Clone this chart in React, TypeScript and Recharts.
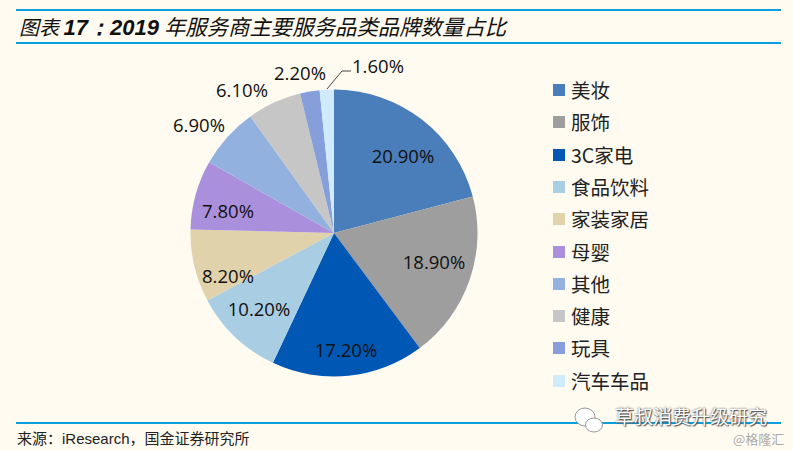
import React from "react";
import { PieChart, Pie, Cell, Legend } from "recharts";

const categories = ["美妆", "服饰", "3C家电", "食品饮料", "家装家居", "母婴", "其他", "健康", "玩具", "汽车车品"];
const shares = [20.9, 18.9, 17.2, 10.2, 8.2, 7.8, 6.9, 6.1, 2.2, 1.6];
const colors = ["#4A7EBB", "#9E9E9E", "#0058B4", "#A9CDE3", "#E0D2AA", "#AA90DC", "#93B1DF", "#C6C6C6", "#869FDB", "#CFEBFD"];
const labelText = ["20.90%", "18.90%", "17.20%", "10.20%", "8.20%", "7.80%", "6.90%", "6.10%", "2.20%", "1.60%"];

const chartData = categories.map((name, i) => ({ name, value: shares[i] }));

const BG = "#FFFBF0";
const BLUE = "#0C9FE0";
const CJK = "'Noto Sans CJK SC', sans-serif";

// label-centre offsets from the pie centre (layout only)
const labelOffsets: [number, number][] = [
  [69, -78], [100, 28], [12, 116], [-75, 75], [-106, 42],
  [-106, -23], [-135, -109], [-92, -144], [-34, -161], [44, -168],
];

const renderLabel = (p: any) => {
  const [dx, dy] = labelOffsets[p.index];
  return (
    <text x={p.cx + dx} y={p.cy + dy} textAnchor="middle" dominantBaseline="central"
      fontSize={18.5} fontFamily="'Open Sans', sans-serif" fill="#111">
      {labelText[p.index]}
    </text>
  );
};

const LegendList = () => (
  <div style={{ position: "absolute", left: 553, top: 74 }}>
    {chartData.map((d, i) => (
      <div key={d.name} style={{ position: "absolute", left: 0, top: i * 32.3, height: 32, width: 130, display: "flex", alignItems: "center" }}>
        <span style={{ width: 12, height: 12, background: colors[i], marginRight: 6, flex: "none" }} />
        <span style={{ fontFamily: CJK, fontSize: 19.5, color: "#222", whiteSpace: "nowrap", lineHeight: "32px" }}>{d.name}</span>
      </div>
    ))}
  </div>
);

const Rule = ({ top }: { top: number }) => (
  <div style={{ position: "absolute", left: 16, width: 765, top, height: 2, background: BLUE }} />
);

export default function App() {
  return (
    <div style={{ position: "fixed", left: 0, top: 0, width: 793, height: 451, background: BG, overflow: "hidden" }}>
      <Rule top={9} />
      <Rule top={42} />
      <div style={{ position: "absolute", left: 19, top: 13, fontSize: 20, lineHeight: "26px", fontStyle: "italic", color: "#111", whiteSpace: "nowrap", fontFamily: CJK, fontWeight: 400 }}>
        图表 <b style={{ fontFamily: "'Liberation Sans', sans-serif", fontSize: 22 }}>17：2019</b>
        <span style={{ fontSize: 21.4, marginLeft: 5 }}>年服务商主要服务品类品牌数量占比</span>
      </div>

      <PieChart width={793} height={451} margin={{ top: 0, right: 0, bottom: 0, left: 0 }} style={{ position: "absolute", left: 0, top: 0 }}>
        <Pie
          data={chartData}
          dataKey="value"
          nameKey="name"
          cx={334}
          cy={233}
          outerRadius={143.5}
          startAngle={90}
          endAngle={-270}
          stroke="none"
          isAnimationActive={false}
          label={renderLabel}
          labelLine={false}
        >
          {chartData.map((d, i) => (
            <Cell key={d.name} fill={colors[i]} />
          ))}
        </Pie>
        <Legend content={() => null} />
      </PieChart>
      <svg width={793} height={451} style={{ position: "absolute", left: 0, top: 0 }}>
        <polyline points="327,89 342,71 351,71" fill="none" stroke="#444" strokeWidth={1} />
      </svg>

      <LegendList />

      <Rule top={422} />
      <div style={{ position: "absolute", left: 17, top: 429, fontSize: 15, lineHeight: "18px", color: "#222", whiteSpace: "nowrap", fontFamily: CJK }}>
        来源：<span style={{ fontFamily: "'Liberation Sans', sans-serif" }}>iResearch</span>，国金证券研究所
      </div>

      <svg width={40} height={34} style={{ position: "absolute", left: 572, top: 404 }}>
        <ellipse cx={13} cy={13} rx={10} ry={9} fill="#fff" stroke="#999" />
        <ellipse cx={22} cy={21} rx={8.5} ry={7} fill="#fff" stroke="#999" />
      </svg>
      <div style={{ position: "absolute", left: 615, top: 404, fontSize: 19, lineHeight: "24px", color: "#fff", textShadow: "0 0 2px #444, 1px 1px 1px #555", whiteSpace: "nowrap", fontFamily: CJK }}>
        草叔消费升级研究
      </div>
      <div style={{ position: "absolute", left: 733, top: 430, fontSize: 13, lineHeight: "17px", color: "#aaa", whiteSpace: "nowrap", fontFamily: CJK }}>
        @格隆汇
      </div>
    </div>
  );
}
